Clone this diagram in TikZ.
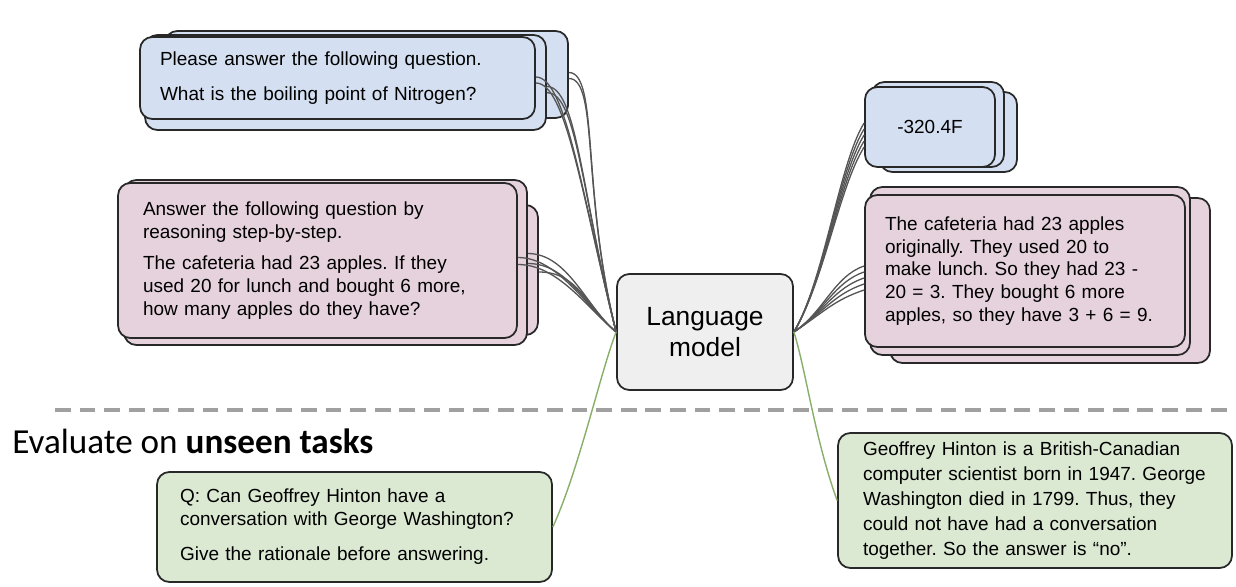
\documentclass[tikz,border=0pt]{standalone}
\usepackage{fontspec}
\usepackage{tikz}
\usetikzlibrary{positioning, calc}
\usepackage{xcolor}
\definecolor{edgedark}{RGB}{40,40,40}
\definecolor{cardblue}{RGB}{212,224,241}
\definecolor{cardpink}{RGB}{230,210,221}
\definecolor{cardgreen}{RGB}{219,232,210}
\definecolor{lmgray}{RGB}{239,239,239}
\definecolor{wiregray}{RGB}{85,85,85}
\definecolor{wiregreen}{RGB}{135,175,105}
\definecolor{dividergray}{RGB}{160,160,160}
\newfontfamily\cardsans{Liberation Sans}
\newfontfamily\headsans{Carlito}
\newcommand{\cardfont}{\cardsans\fontsize{10.8pt}{13pt}\selectfont}
\newcommand{\lmfont}{\cardsans\fontsize{15pt}{17.6pt}\selectfont}
\newcommand{\headfont}{\headsans\fontsize{20pt}{24pt}\selectfont}
\frenchspacing

\begin{document}
\begin{tikzpicture}[
  x=0.02cm, y=-0.02cm,
  card/.style={rectangle, draw=edgedark, line width=1pt, rounded corners=7pt, inner ysep=0pt, font=\cardfont, align=left},
  bluecard/.style={card, fill=cardblue},
  pinkcard/.style={card, fill=cardpink},
  greencard/.style={card, fill=cardgreen},
  lmbox/.style={card, fill=lmgray, font=\lmfont, align=center, minimum width=3.52cm, minimum height=2.32cm},
  wire/.style={draw=wiregray, line width=0.75pt},
  greenwire/.style={draw=wiregreen, line width=0.8pt},
  divider/.style={draw=dividergray, line width=2.2pt, dash pattern=on 9pt off 5pt},
]
  \useasboundingbox (0,0) rectangle (1236,587);

  % Training prompts (left)
  \node[bluecard, minimum width=8.06cm, minimum height=1.74cm] (bq2) at (366.5,74.5) {};
  \node[bluecard, minimum width=8.02cm, minimum height=1.9cm] (bq1) at (345.5,82.5) {};
  \node[bluecard, minimum height=1.64cm, text width=7.1cm, inner xsep=0.4cm] (bq) at (337.5,78)
    {Please answer the following question.\\[7pt]What is the boiling point of Nitrogen?};

  \node[pinkcard, minimum width=7.96cm, minimum height=2.6cm] (pq2) at (339,270) {};
  \node[pinkcard, minimum width=8.06cm, minimum height=3.3cm] (pq1) at (325.5,262.5) {};
  \node[pinkcard, minimum height=3.1cm, text width=6.98cm, inner xsep=0.5cm] (pq) at (317.5,260.5)
    {Answer the following question by\\reasoning step-by-step.\\[5pt]The cafeteria had 23 apples. If they\\used 20 for lunch and bought 6 more,\\how many apples do they have?};

  % Model
  \node[lmbox] (lm) at (705,332) {Language\\model};

  % Training targets (right)
  \node[bluecard, minimum width=2.74cm, minimum height=1.6cm] (ba2) at (948.5,132) {};
  \node[bluecard, minimum width=2.64cm, minimum height=1.7cm] (ba1) at (938,124.5) {};
  \node[bluecard, minimum width=2.6cm, minimum height=1.6cm, align=center] (ba) at (930,127) {-320.4F};

  \node[pinkcard, minimum width=6.4cm, minimum height=3.3cm] (pa2) at (1050,280.5) {};
  \node[pinkcard, minimum width=6.4cm, minimum height=3.36cm] (pa1) at (1030,271) {};
  \node[pinkcard, minimum height=3.04cm, text width=5.6cm, inner xsep=0.4cm] (pa) at (1025,271)
    {The cafeteria had 23 apples\\originally. They used 20 to\\make lunch. So they had 23 -\\20 = 3. They bought 6 more\\apples, so they have 3 + 6 = 9.};

  % Unseen task
  \draw[divider] (55,410) -- (1228,410);
  \node[anchor=base west, font=\headfont, inner sep=0pt] (eval) at (12,453) {Evaluate on \textbf{unseen tasks}};

  \node[greencard, minimum height=2.2cm, text width=6.98cm, inner xsep=0.46cm] (gq) at (354.5,527)
    {Q: Can Geoffrey Hinton have a\\conversation with George Washington?\\[7pt]Give the rationale before answering.};
  \node[greencard, minimum height=2.7cm, text width=6.88cm, inner xsep=0.5cm, font=\cardsans\fontsize{10.8pt}{14.2pt}\selectfont] (ga) at (1035,500.5)
    {Geoffrey Hinton is a British-Canadian\\computer scientist born in 1947. George\\Washington died in 1799. Thus, they\\could not have had a conversation\\together. So the answer is \textquotedblleft no\textquotedblright.};

  % Wires into the model
  \foreach \src/\dy in {bq/-1, bq/5, bq1/4, bq1/10, bq2/-2, bq2/4}
    \draw[wire] ([shift={(0,\dy)}]\src.east) .. controls +(30,0) and +(-35,-140) .. (lm.west);
  \foreach \src/\dy in {pq/-3, pq/4, pq1/-9, pq1/1, pq2/2}
    \draw[wire] ([shift={(0,\dy)}]\src.east) .. controls +(40,0) and +(-30,-25) .. (lm.west);

  % Wires out of the model
  \foreach \dy in {-4,2,8,14,20}
    \draw[wire] (lm.east) .. controls +(30,-50) and +(-25,40) .. ([shift={(0,\dy)}]ba.west);
  \foreach \dy in {-5,1,7,13,19}
    \draw[wire] (lm.east) .. controls +(30,-20) and +(-30,10) .. ([shift={(0,\dy)}]pa.west);

  \draw[greenwire] (lm.west) .. controls +(-15,38) and +(26,-57) .. (gq.east);
  \draw[greenwire] (lm.east) .. controls +(12,38) and +(-22,-60) .. (ga.west);
\end{tikzpicture}
\end{document}
